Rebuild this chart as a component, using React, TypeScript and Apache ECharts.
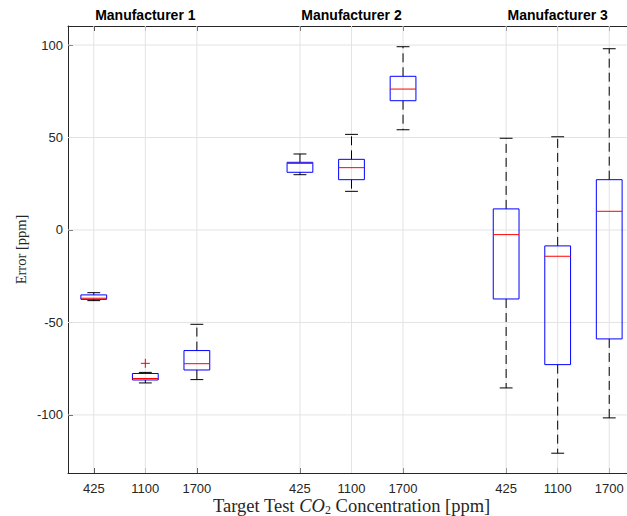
import React, { useEffect, useRef } from "react";
import * as echarts from "echarts";

const manufacturers = ["Manufacturer 1", "Manufacturer 2", "Manufacturer 3"];
const concentrations = ["425", "1100", "1700"];
// per box, order: M1-425, M1-1100, M1-1700, M2-425, ... M3-1700
const whiskerLow = [-38.2, -82.7, -80.9, 29.9, 20.9, 54.2, -85.4, -120.7, -101.6];
const quartile1 = [-37.5, -81.1, -75.7, 31.2, 27.2, 69.9, -37.3, -72.8, -58.9];
const medians = [-36.9, -80.3, -72.3, 36.0, 33.7, 76.2, -2.5, -14.2, 10.1];
const quartile3 = [-35.1, -77.6, -65.2, 36.6, 38.2, 83.1, 11.4, -8.6, 27.2];
const whiskerHigh = [-33.9, -77.0, -51.0, 41.1, 51.7, 99.1, 49.6, 50.4, 98.0];
const outlierBox = [1];
const outlierValues = [-72.1];
const yTicks = [-100, -50, 0, 50, 100];
const yMin = -131.4;
const yMax = 110.3;

const positions: number[] = [];
const xLabels: Record<number, string> = {};
manufacturers.forEach((_, g) => {
  concentrations.forEach((c, k) => {
    const p = g * 4 + k + 1;
    positions.push(p);
    xLabels[p] = c;
  });
});
const titlePositions = manufacturers.map((_, g) => g * 4 + 2);

const AXIS = "#262626";
const GRID = "#e3e3e3";

export default function App() {
  const ref = useRef<HTMLDivElement>(null);
  useEffect(() => {
    if (!ref.current) return;
    const chart = echarts.init(ref.current, null, { renderer: "svg" });
    const boxData = positions.map((p, i) => [p, whiskerLow[i], quartile1[i], medians[i], quartile3[i], whiskerHigh[i]]);
    const outData = outlierBox.map((b, i) => [positions[b], outlierValues[i]]);
    const tickFont = { fontFamily: "Liberation Sans, Arial, sans-serif", fontSize: 13, color: AXIS };
    chart.setOption({
      animation: false,
      grid: { left: 68, top: 26, bottom: 43, right: -8, containLabel: false, outerBoundsMode: "none" },
      xAxis: [
        {
          type: "value",
          min: 0.5,
          max: 11.5,
          position: "bottom",
          axisLine: { show: true, onZero: false, lineStyle: { color: AXIS, width: 1 } },
          axisTick: { show: true, inside: true, length: 5, customValues: positions, lineStyle: { color: AXIS } },
          axisLabel: { ...tickFont, margin: 9, customValues: positions, formatter: (v: number) => xLabels[v] || "" },
          splitLine: { show: false },
          name: "Target Test {it|CO}{sub|2} Concentration [ppm]",
          nameLocation: "middle",
          nameGap: 23,
          nameMoveOverlap: false,
          nameTextStyle: {
            fontFamily: "Liberation Serif, serif",
            fontSize: 18.5,
            color: AXIS,
            rich: {
              it: { fontFamily: "Liberation Serif, serif", fontSize: 18.5, fontStyle: "italic", color: AXIS },
              sub: { fontFamily: "Liberation Serif, serif", fontSize: 12, color: AXIS, verticalAlign: "bottom", padding: [8, 0, 0, 0] },
            },
          },
        },
        {
          type: "value",
          min: 0.5,
          max: 11.5,
          position: "top",
          axisLine: { show: true, onZero: false, lineStyle: { color: AXIS, width: 1 } },
          axisTick: { show: true, inside: true, length: 5, customValues: positions, lineStyle: { color: AXIS } },
          axisLabel: {
            fontFamily: "Liberation Sans, Arial, sans-serif",
            fontSize: 14,
            fontWeight: "bold",
            color: "#000",
            margin: 4,
            customValues: titlePositions,
            formatter: (v: number) => manufacturers[Math.round((v - 2) / 4)] || "",
          },
          splitLine: { show: false },
        },
      ],
      yAxis: {
        type: "value",
        min: yMin,
        max: yMax,
        axisLine: { show: true, onZero: false, lineStyle: { color: AXIS, width: 1 } },
        axisTick: { show: true, inside: true, length: 5, customValues: yTicks, lineStyle: { color: AXIS } },
        axisLabel: { ...tickFont, margin: 5, customValues: yTicks },
        splitLine: { show: false },
        name: "Error [ppm]",
        nameLocation: "middle",
        nameGap: 40,
        nameMoveOverlap: false,
        nameTextStyle: { fontFamily: "Liberation Serif, serif", fontSize: 14.5, color: AXIS },
      },
      series: [
        {
          type: "custom",
          z: 1,
          silent: true,
          data: positions.map((p) => [p]),
          renderItem: (params: any, api: any) => {
            const cs = params.coordSys;
            const p = api.coord([api.value(0), 0]);
            return {
              type: "line",
              shape: { x1: p[0], y1: cs.y, x2: p[0], y2: cs.y + cs.height },
              style: { stroke: GRID, lineWidth: 1 },
            };
          },
        },
        {
          type: "custom",
          z: 1,
          silent: true,
          data: yTicks.map((v) => [v]),
          renderItem: (params: any, api: any) => {
            const cs = params.coordSys;
            const p = api.coord([1, api.value(0)]);
            return {
              type: "line",
              shape: { x1: cs.x, y1: p[1], x2: cs.x + cs.width, y2: p[1] },
              style: { stroke: GRID, lineWidth: 1 },
            };
          },
        },
        {
          type: "custom",
          z: 3,
          silent: true,
          data: boxData,
          renderItem: (params: any, api: any) => {
            const x = api.value(0);
            const lo = api.coord([x, api.value(1)]);
            const q1 = api.coord([x, api.value(2)]);
            const md = api.coord([x, api.value(3)]);
            const q3 = api.coord([x, api.value(4)]);
            const hi = api.coord([x, api.value(5)]);
            const bw = api.size([0.5, 0])[0];
            const cw = bw / 2;
            const cx = lo[0];
            const dash = { stroke: "#000", lineWidth: 1, lineDash: [9, 5] };
            const solid = { stroke: "#000", lineWidth: 1 };
            return {
              type: "group",
              children: [
                { type: "line", shape: { x1: cx, y1: q3[1], x2: cx, y2: hi[1] }, style: dash },
                { type: "line", shape: { x1: cx, y1: q1[1], x2: cx, y2: lo[1] }, style: dash },
                { type: "line", shape: { x1: cx - cw / 2, y1: hi[1], x2: cx + cw / 2, y2: hi[1] }, style: solid },
                { type: "line", shape: { x1: cx - cw / 2, y1: lo[1], x2: cx + cw / 2, y2: lo[1] }, style: solid },
                {
                  type: "rect",
                  shape: { x: cx - bw / 2, y: q3[1], width: bw, height: q1[1] - q3[1] },
                  style: { fill: "none", stroke: "#0000ff", lineWidth: 1 },
                },
                { type: "line", shape: { x1: cx - bw / 2, y1: md[1], x2: cx + bw / 2, y2: md[1] }, style: { stroke: "#ff0000", lineWidth: 1 } },
              ],
            };
          },
        },
        {
          type: "custom",
          z: 4,
          silent: true,
          data: outData,
          renderItem: (params: any, api: any) => {
            const p = api.coord([api.value(0), api.value(1)]);
            const h = 4.5;
            const st = { stroke: "#ff0000", lineWidth: 1 };
            return {
              type: "group",
              children: [
                { type: "line", shape: { x1: p[0] - h, y1: p[1], x2: p[0] + h, y2: p[1] }, style: st },
                { type: "line", shape: { x1: p[0], y1: p[1] - h, x2: p[0], y2: p[1] + h }, style: st },
              ],
            };
          },
        },
      ],
    });
    return () => chart.dispose();
  }, []);
  return (
    <div
      ref={ref}
      style={{ position: "absolute", left: 0, top: 0, width: 627, height: 516, background: "#fff" }}
    />
  );
}
